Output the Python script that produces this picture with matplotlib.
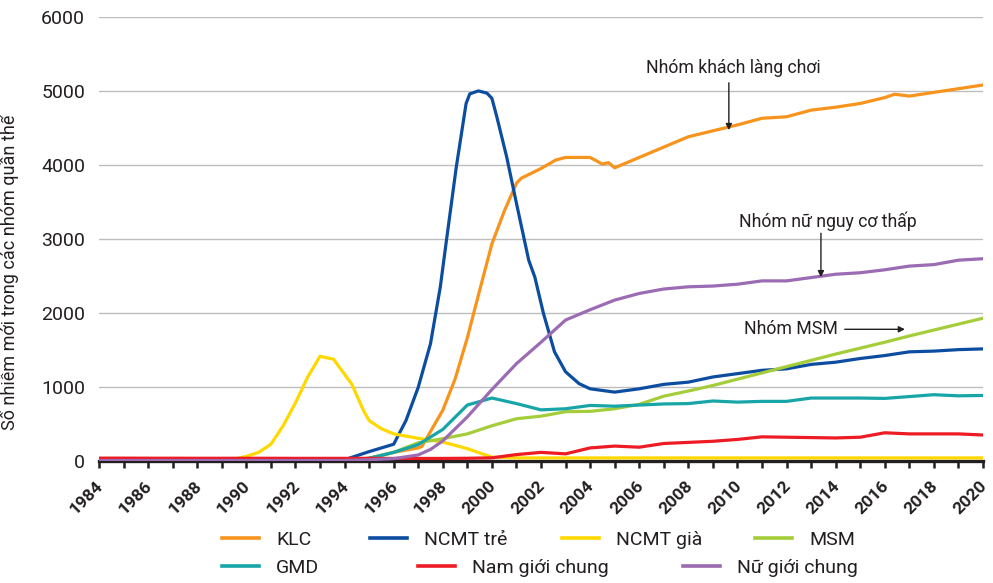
import matplotlib
matplotlib.use("Agg")
import matplotlib.pyplot as plt
from matplotlib.ticker import MultipleLocator
from matplotlib.lines import Line2D
from matplotlib import font_manager
import matplotlib.transforms as mtransforms

# ---- fonts -------------------------------------------------------------
available = {f.name for f in font_manager.fontManager.ttflist}
base = "Liberation Sans Narrow" if "Liberation Sans Narrow" in available else "Roboto"
FAMILY = [base, "DejaVu Sans"]
plt.rcParams["font.family"] = FAMILY

# ---- data --------------------------------------------------------------
klc_years = [1984, 1994, 1995, 1996, 1997, 1997.15, 1998, 1998.5, 1999, 1999.5,
             2000, 2000.5, 2001, 2001.2, 2002, 2002.6, 2003, 2004, 2004.5, 2004.75,
             2005, 2006, 2007, 2008, 2009, 2010, 2011, 2012, 2013, 2014, 2015,
             2016, 2016.4, 2017, 2018, 2019, 2020]
klc_vals = [0, 0, 30, 110, 170, 190, 680, 1100, 1660, 2300,
            2930, 3370, 3750, 3820, 3950, 4065, 4100, 4100, 4010, 4030,
            3960, 4100, 4240, 4380, 4460, 4540, 4630, 4650, 4740, 4780, 4830,
            4910, 4955, 4930, 4980, 5030, 5080]

ncmt_tre_years = [1984, 1993.8, 1994, 1995, 1996, 1996.5, 1997, 1997.5, 1997.9, 1998.15,
                  1998.55, 1998.95, 1999.1, 1999.45, 1999.8, 2000, 2000.2, 2000.6, 2001,
                  2001.5, 2001.75, 2002.1, 2002.55, 2003, 2003.55, 2004, 2005, 2006, 2007,
                  2008, 2009, 2010, 2011, 2012, 2013, 2014, 2015, 2016, 2017, 2018, 2019, 2020]
ncmt_tre_vals = [0, 0, 10, 120, 220, 540, 990, 1580, 2350, 2980,
                 3970, 4830, 4960, 5000, 4970, 4900, 4650, 4110, 3480,
                 2710, 2480, 1990, 1470, 1200, 1040, 970, 925, 970, 1030,
                 1060, 1130, 1175, 1220, 1240, 1300, 1330, 1380, 1420, 1470, 1480, 1500, 1510]

ncmt_gia_years = [1984, 1989.5, 1990, 1990.5, 1991, 1991.5, 1992, 1992.5, 1993, 1993.55,
                  1994.3, 1994.75, 1995, 1995.5, 1996, 1997, 1998, 1999, 2000, 2001, 2020]
ncmt_gia_vals = [15, 20, 55, 110, 220, 470, 780, 1130, 1410, 1370,
                 1030, 690, 540, 430, 360, 300, 250, 160, 45, 35, 35]

years = list(range(1984, 2021))
msm_vals = [0] * 11 + [30, 110, 240, 295, 360, 470, 565, 600, 660, 665, 700, 760, 870,
                       940, 1015, 1100, 1185, 1270, 1355, 1440, 1520, 1600, 1685, 1765, 1845, 1925]
gmd_vals = [0] * 11 + [30, 110, 215, 420, 750, 845, 770, 685, 700, 745, 735, 750, 765,
                       770, 805, 790, 800, 800, 845, 845, 845, 840, 865, 890, 875, 880]
nam_vals = [32, 32, 31, 31, 30, 30, 30, 30, 29, 29, 29, 29, 28, 28, 28, 30, 36,
            80, 110, 90, 170, 195, 180, 230, 245, 260, 285, 320, 315, 310, 305, 315,
            375, 360, 360, 360, 345]
nu_years = [1984, 1994, 1995, 1996, 1997, 1997.5, 1998, 1999, 2000, 2001, 2002, 2003,
            2004, 2005, 2006, 2007, 2008, 2009, 2010, 2011, 2012, 2013, 2014, 2015,
            2016, 2017, 2018, 2019, 2020]
nu_vals = [0, 0, 10, 25, 75, 150, 265, 590, 960, 1310, 1600, 1900,
           2040, 2170, 2260, 2320, 2350, 2360, 2385, 2430, 2430, 2475, 2520, 2540,
           2580, 2630, 2650, 2710, 2730]

series = [
    ("KLC", klc_years, klc_vals, "#F7941D"),
    ("NCMT trẻ", ncmt_tre_years, ncmt_tre_vals, "#0D4DA1"),
    ("NCMT già", ncmt_gia_years, ncmt_gia_vals, "#FFD800"),
    ("MSM", years, msm_vals, "#A4CD39"),
    ("GMD", years, gmd_vals, "#17A5A8"),
    ("Nam giới chung", years, nam_vals, "#ED1C24"),
    ("Nữ giới chung", nu_years, nu_vals, "#9B6BB3"),
]

# ---- figure ------------------------------------------------------------
W, H = 993, 583
fig = plt.figure(figsize=(W / 100, H / 100), dpi=100)
ax = fig.add_axes([99 / W, 1 - 460.5 / H, 884 / W, 443.5 / H])

lines = {}
for name, xs, ys, col in series:
    (ln,) = ax.plot(xs, ys, color=col, lw=2.3, solid_joinstyle="round", zorder=3)
    lines[name] = ln

ax.set_xlim(1984, 2020)
ax.set_ylim(0, 6000)
ax.yaxis.set_major_locator(MultipleLocator(1000))
ax.xaxis.set_major_locator(MultipleLocator(2))
ax.xaxis.set_minor_locator(MultipleLocator(1))
ax.grid(axis="y", color="#BDBDBD", lw=1.0, zorder=0)
ax.set_axisbelow(True)
for s in ("top", "right", "left"):
    ax.spines[s].set_visible(False)
ax.spines["bottom"].set_linewidth(2.4)
ax.spines["bottom"].set_color("#231F20")
ax.spines["bottom"].set_zorder(2.5)

ax.tick_params(axis="y", length=0, pad=10, labelsize=14, labelcolor="#231F20")
ax.tick_params(axis="x", which="both", direction="out", length=5, width=1.8,
               color="#231F20", pad=2)
ax.tick_params(axis="x", labelsize=12.5, labelcolor="#231F20")

offset = mtransforms.ScaledTranslation(-2.5 / 72, -6 / 72, fig.dpi_scale_trans)
for lab in ax.get_xticklabels():
    lab.set_rotation(45)
    lab.set_ha("right")
    lab.set_va("top")
    lab.set_rotation_mode("anchor")
    lab.set_fontweight("bold")
    lab.set_transform(lab.get_transform() + offset)

ax.set_ylabel("Số nhiễm mới trong các nhóm quần thể", fontsize=13, color="#231F20")
ax.yaxis.set_label_coords(-0.09, 0.425)

# ---- annotations -------------------------------------------------------
arrow = dict(arrowstyle="-|>", lw=1.0, color="#231F20", mutation_scale=9,
             shrinkA=0, shrinkB=0)
ann_kw = dict(fontsize=12.7, color="#231F20", ha="center", va="center")
ax.text(2009.85, 5310, "Nhóm khách làng chơi", **ann_kw)
ax.annotate("", xy=(2009.65, 4470), xytext=(2009.65, 5110), arrowprops=arrow)
ax.text(2013.68, 3240, "Nhóm nữ nguy cơ thấp", **ann_kw)
ax.annotate("", xy=(2013.4, 2480), xytext=(2013.4, 3075), arrowprops=arrow)
ax.text(2012.18, 1775, "Nhóm MSM", **ann_kw)
ax.annotate("", xy=(2016.82, 1775), xytext=(2014.37, 1775), arrowprops=arrow)

# ---- legend (two rows) -------------------------------------------------
legend_slots = {
    "KLC": (222, 540), "NCMT trẻ": (370, 540), "NCMT già": (562, 540), "MSM": (755, 540),
    "GMD": (222, 568), "Nam giới chung": (418, 568), "Nữ giới chung": (683, 568),
}
for name, (px, py) in legend_slots.items():
    ln = lines[name]
    h = Line2D([], [], color=ln.get_color(), lw=2.6)
    leg = fig.legend([h], [name], loc="center left",
                     bbox_to_anchor=(px / W, 1 - py / H), frameon=False,
                     fontsize=14, handlelength=1.88, handletextpad=0.9,
                     borderpad=0, borderaxespad=0)
    for t in leg.get_texts():
        t.set_color("#231F20")

fig.savefig("out.png", dpi=100)
